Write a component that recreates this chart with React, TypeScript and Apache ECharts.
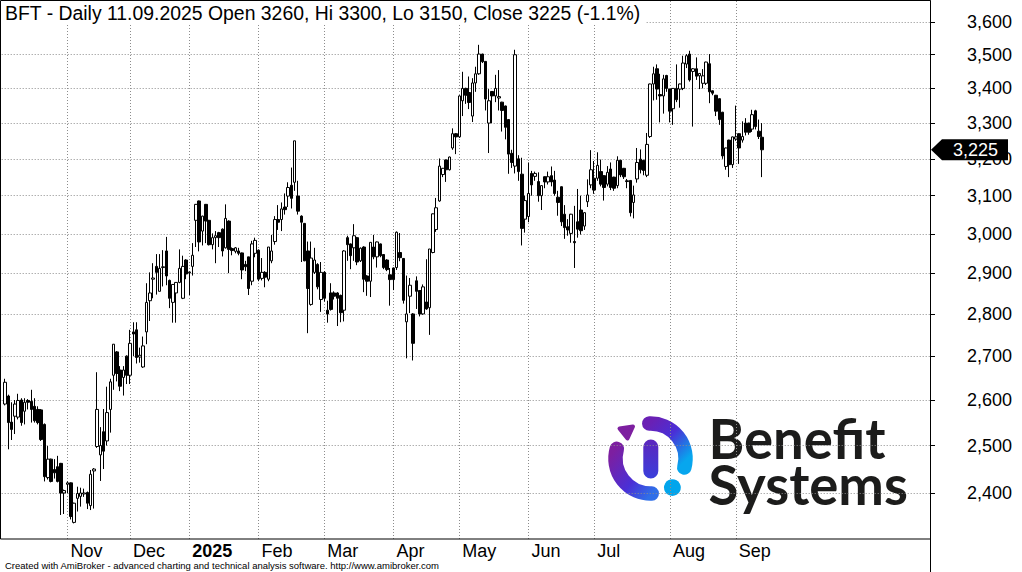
import React, { useEffect, useRef } from "react";
import * as echarts from "echarts";

const TICKER = "BFT";
const FIRST_DAY = "2024-10-07";
const LAST_DAY = "2025-09-11";
const HOLIDAYS = [
  "2024-11-01", "2024-11-11", "2024-12-24", "2024-12-25", "2024-12-26", "2024-12-31",
  "2025-01-01", "2025-01-06", "2025-04-18", "2025-04-21", "2025-05-01", "2025-06-19", "2025-08-15",
];
const MONTH_LABELS = ["Jan", "Feb", "Mar", "Apr", "May", "Jun", "Jul", "Aug", "Sep", "Oct", "Nov", "Dec"];
const PRICE_TICKS = [2400, 2500, 2600, 2700, 2800, 2900, 3000, 3100, 3200, 3300, 3400, 3500, 3600];
const Y_MIN = 2306.8;
const Y_MAX = 3665.7;
const TAIL_SLOTS = 51;

const OPEN = [
  2591, 2609, 2551, 2564, 2562, 2600, 2575, 2599, 2597, 2586,
  2579, 2578, 2546, 2432, 2471, 2449, 2455, 2462, 2400, 2418,
  2421, 2340, 2389, 2393, 2398, 2401, 2374, 2446, 2498, 2480,
  2530, 2510, 2579, 2656, 2710, 2668, 2651, 2700, 2656, 2757,
  2762, 2698, 2675, 2757, 2832, 2885, 2917, 2855, 2914, 2956,
  2882, 2828, 2851, 2877, 2838, 2933, 2901, 2917, 3035, 3086,
  3007, 3077, 3035, 2972, 2990, 3003, 3012, 2964, 3033, 2962,
  2955, 2956, 2951, 2922, 2941, 2880, 2950, 2958, 2887, 2902,
  2885, 2931, 2980, 3037, 3037, 3070, 3099, 3128, 3136, 3099,
  3046, 3027, 2956, 2823, 2902, 2922, 2835, 2902, 2809, 2851,
  2851, 2851, 2845, 2809, 2990, 2974, 2964, 2990, 2931, 2966,
  2893, 2880, 2966, 2941, 2974, 2947, 2933, 2896, 2913, 2914,
  2952, 2937, 2781, 2843, 2800, 2881, 2857, 2800, 2829, 2815,
  2952, 3011, 3086, 3157, 3197, 3170, 3230, 3270, 3261, 3364,
  3400, 3388, 3320, 3416, 3443, 3502, 3480, 3300, 3391, 3378,
  3372, 3360, 3349, 3310, 3215, 3180, 3200, 3158, 3038, 3045,
  3160, 3152, 3138, 3100, 3151, 3137, 3154, 3142, 3096, 3124,
  3051, 3018, 3001, 2980, 3031, 3062, 3020, 3084, 3129, 3147,
  3147, 3165, 3154, 3131, 3172, 3150, 3127, 3196, 3174, 3140,
  3141, 3082, 3145, 3199, 3196, 3155, 3262, 3413, 3458, 3382,
  3378, 3438, 3398, 3341, 3400, 3398, 3400, 3472, 3502, 3450,
  3458, 3437, 3415, 3415, 3473, 3393, 3380, 3370, 3331, 3179,
  3252, 3184, 3255, 3270, 3252, 3300, 3300, 3283, 3335, 3277,
  3260,
];

const HIGH = [
  2648, 2612, 2595, 2600, 2614, 2604, 2604, 2602, 2623, 2604,
  2586, 2580, 2548, 2499, 2472, 2471, 2478, 2463, 2407, 2424,
  2422, 2380, 2413, 2411, 2409, 2403, 2448, 2452, 2663, 2540,
  2580, 2630, 2648, 2728, 2712, 2677, 2677, 2702, 2762, 2780,
  2780, 2720, 2746, 2875, 2902, 2925, 2948, 2948, 2958, 2992,
  2884, 2873, 2878, 2960, 2944, 2935, 2904, 2976, 3078, 3087,
  3047, 3078, 3036, 3001, 3007, 3005, 3014, 3077, 3035, 2965,
  2966, 2964, 2952, 2931, 2941, 2982, 2990, 2960, 2938, 2905,
  2966, 2997, 3046, 3075, 3082, 3106, 3136, 3176, 3250, 3140,
  3048, 3028, 2980, 2980, 2964, 2925, 2928, 2905, 2832, 2875,
  2855, 2853, 2847, 2958, 2995, 2975, 3025, 2992, 2965, 2968,
  2895, 2978, 2997, 2980, 2975, 2948, 2935, 2913, 2914, 3006,
  3002, 2938, 2894, 2888, 2802, 2892, 2858, 2872, 2935, 2961,
  3053, 3094, 3201, 3175, 3198, 3206, 3285, 3272, 3380, 3449,
  3402, 3435, 3430, 3464, 3530, 3503, 3481, 3398, 3392, 3440,
  3454, 3361, 3350, 3311, 3225, 3515, 3210, 3203, 3100, 3190,
  3167, 3165, 3163, 3128, 3152, 3165, 3179, 3167, 3113, 3125,
  3075, 3038, 3052, 3073, 3118, 3100, 3056, 3144, 3224, 3194,
  3218, 3198, 3155, 3180, 3190, 3151, 3207, 3197, 3175, 3145,
  3142, 3127, 3230, 3226, 3197, 3272, 3414, 3464, 3471, 3443,
  3440, 3440, 3399, 3401, 3471, 3414, 3497, 3502, 3512, 3460,
  3492, 3445, 3457, 3479, 3502, 3394, 3381, 3371, 3332, 3231,
  3253, 3262, 3350, 3271, 3305, 3314, 3301, 3338, 3338, 3310,
  3300,
];

const LOW = [
  2588, 2492, 2512, 2525, 2557, 2543, 2546, 2579, 2550, 2550,
  2546, 2510, 2424, 2428, 2422, 2430, 2422, 2355, 2357, 2400,
  2346, 2338, 2362, 2372, 2392, 2367, 2365, 2368, 2495, 2425,
  2450, 2500, 2528, 2623, 2642, 2620, 2610, 2636, 2636, 2700,
  2683, 2685, 2673, 2728, 2783, 2838, 2847, 2855, 2867, 2870,
  2814, 2779, 2779, 2875, 2836, 2885, 2846, 2894, 2966, 2955,
  2970, 2976, 2970, 2960, 2925, 2966, 2942, 2962, 2900, 2945,
  2950, 2945, 2885, 2905, 2846, 2870, 2940, 2880, 2882, 2865,
  2880, 2925, 2972, 3010, 3007, 3050, 3070, 3066, 3113, 3050,
  2928, 2930, 2754, 2820, 2898, 2860, 2805, 2830, 2779, 2808,
  2835, 2771, 2780, 2782, 2931, 2910, 2931, 2920, 2928, 2853,
  2844, 2841, 2935, 2914, 2940, 2910, 2905, 2820, 2858, 2908,
  2930, 2825, 2695, 2802, 2690, 2812, 2794, 2798, 2810, 2750,
  2950, 3005, 3084, 3150, 3137, 3168, 3225, 3213, 3258, 3320,
  3355, 3340, 3303, 3390, 3440, 3475, 3336, 3216, 3300, 3360,
  3336, 3276, 3254, 3159, 3175, 3160, 3140, 2970, 3003, 3030,
  3100, 3140, 3084, 3062, 3120, 3130, 3125, 3100, 3047, 3020,
  2987, 2995, 2977, 2913, 2990, 2998, 3010, 3070, 3120, 3105,
  3140, 3125, 3087, 3125, 3115, 3113, 3120, 3150, 3145, 3120,
  3045, 3040, 3135, 3160, 3155, 3150, 3258, 3365, 3367, 3302,
  3327, 3390, 3302, 3295, 3360, 3344, 3395, 3460, 3420, 3290,
  3425, 3398, 3400, 3410, 3357, 3380, 3320, 3295, 3200, 3170,
  3150, 3175, 3250, 3186, 3245, 3265, 3267, 3275, 3282, 3255,
  3150,
];

const CLOSE = [
  2640, 2550, 2535, 2591, 2599, 2550, 2595, 2595, 2579, 2554,
  2550, 2513, 2434, 2471, 2424, 2442, 2424, 2400, 2405, 2421,
  2352, 2379, 2399, 2400, 2400, 2379, 2439, 2450, 2579, 2500,
  2488, 2572, 2641, 2728, 2660, 2631, 2668, 2656, 2730, 2752,
  2697, 2702, 2724, 2828, 2851, 2888, 2902, 2912, 2916, 2893,
  2838, 2872, 2877, 2912, 2917, 2898, 2903, 2945, 3077, 2979,
  3046, 3033, 2972, 2990, 2995, 2990, 2956, 3040, 2960, 2957,
  2964, 2950, 2908, 2916, 2862, 2974, 2983, 2885, 2902, 2890,
  2966, 2956, 3037, 3030, 3065, 3063, 3122, 3093, 3250, 3059,
  3030, 2931, 2862, 2938, 2933, 2866, 2902, 2838, 2800, 2811,
  2843, 2838, 2803, 2956, 2972, 2944, 2995, 2928, 2963, 2885,
  2880, 2978, 2941, 2979, 2944, 2914, 2909, 2884, 2884, 3004,
  2939, 2833, 2800, 2870, 2730, 2855, 2800, 2866, 2812, 2961,
  3052, 3068, 3180, 3174, 3170, 3205, 3270, 3261, 3378, 3400,
  3380, 3359, 3416, 3443, 3502, 3479, 3369, 3364, 3378, 3400,
  3376, 3336, 3288, 3213, 3190, 3500, 3165, 3014, 3087, 3106,
  3129, 3160, 3100, 3127, 3137, 3151, 3137, 3106, 3082, 3031,
  3016, 3010, 3051, 2977, 3012, 3008, 3055, 3102, 3170, 3115,
  3182, 3131, 3122, 3163, 3122, 3120, 3196, 3156, 3151, 3138,
  3055, 3102, 3190, 3170, 3168, 3240, 3413, 3443, 3398, 3378,
  3428, 3400, 3334, 3400, 3367, 3413, 3475, 3497, 3425, 3458,
  3436, 3444, 3437, 3478, 3390, 3386, 3334, 3310, 3208, 3230,
  3184, 3261, 3261, 3230, 3262, 3274, 3274, 3324, 3290, 3262,
  3225,
];

const FONT = "'Liberation Sans', Arial, sans-serif";
const LOGO_FONT = "Lato, 'Noto Sans', sans-serif";
const LOGO_TEXT = "Benefit\nSystems";
const FOOTER = "Created with AmiBroker - advanced charting and technical analysis software. http://www.amibroker.com";

function buildTradingDays(): string[] {
  const out: string[] = [];
  const [y0, m0, d0] = FIRST_DAY.split("-").map(Number);
  const d = new Date(Date.UTC(y0, m0 - 1, d0));
  const endT = Date.parse(LAST_DAY + "T00:00:00Z");
  while (d.getTime() <= endT) {
    const wd = d.getUTCDay();
    const s = d.toISOString().slice(0, 10);
    if (wd !== 0 && wd !== 6 && HOLIDAYS.indexOf(s) < 0) out.push(s);
    d.setUTCDate(d.getUTCDate() + 1);
  }
  return out;
}

const fmtNum = (v: number) => Math.round(v).toLocaleString("en-US");

export default function App() {
  const ref = useRef<HTMLDivElement>(null);

  useEffect(() => {
    const el = ref.current;
    if (!el) return;
    const chart = echarts.init(el, undefined, { renderer: "svg" });

    const days = buildTradingDays();
    const cats: string[] = ["_lead", ...days];
    for (let i = 0; i < TAIL_SLOTS; i++) cats.push("_t" + i);

    const isMonthStart = (idx: number) => {
      const c = cats[idx];
      const p = cats[idx - 1];
      if (!c || !p || c[0] === "_" || p[0] === "_") return false;
      return c.slice(5, 7) !== p.slice(5, 7);
    };

    const n = Math.min(days.length, OPEN.length);
    const candles = [];
    for (let i = 0; i < n; i++) {
      candles.push([i + 1, OPEN[i], CLOSE[i], LOW[i], HIGH[i]]);
    }
    const last = n - 1;
    const lastClose = CLOSE[last];
    const pct = ((CLOSE[last] / CLOSE[last - 1] - 1) * 100).toFixed(1);
    const lastDate = days[last] || LAST_DAY;
    const [yy, mm, dd] = lastDate.split("-");
    const titleText = `${TICKER} - Daily ${dd}.${mm}.${yy} Open ${OPEN[last]}, Hi ${HIGH[last]}, Lo ${LOW[last]}, Close ${CLOSE[last]} (${pct}%)`;

    const gridLine = { color: "#8c8c8c", width: 1, type: [1, 2] as any };

    const purple = "#7d1fa0";
    const violet = "#4a2fd6";
    const blue = "#2f6fe8";
    const cyan = "#07a6ee";

    const option: any = {
      animation: false,
      backgroundColor: "#fff",
      title: {
        text: titleText,
        left: 0,
        top: 0,
        padding: [3, 5, 3, 5],
        backgroundColor: "#fff",
        textStyle: { fontSize: 19.4, fontWeight: "normal", fontFamily: FONT, color: "#000" },
      },
      grid: { left: 1.7, right: 92, top: 1, bottom: 33, show: false },
      xAxis: {
        type: "category",
        data: cats,
        boundaryGap: false,
        axisLine: { show: false },
        axisTick: { show: false },
        axisLabel: {
          interval: (idx: number) => isMonthStart(idx),
          formatter: (value: string) => {
            if (!value || value[0] === "_") return "";
            const m = Number(value.slice(5, 7));
            return m === 1 ? `{yr|${value.slice(0, 4)}}` : MONTH_LABELS[m - 1];
          },
          align: "left",
          padding: [0, 0, 0, 3],
          margin: 3,
          fontSize: 18,
          fontFamily: FONT,
          color: "#000",
          rich: { yr: { fontSize: 18, fontFamily: FONT, fontWeight: "bold", color: "#000" } },
        },
        splitLine: { show: true, interval: (idx: number) => isMonthStart(idx), lineStyle: gridLine },
      },
      yAxis: {
        type: "log",
        logBase: 10,
        min: Y_MIN,
        max: Y_MAX,
        position: "right",
        axisLine: { show: true, lineStyle: { color: "#000", width: 1 } },
        axisTick: { show: true, customValues: PRICE_TICKS, length: 5, lineStyle: { color: "#000" } },
        axisLabel: {
          customValues: PRICE_TICKS,
          formatter: (v: number) => fmtNum(v),
          margin: 37,
          fontSize: 18,
          fontFamily: FONT,
          color: "#000",
        },
        splitLine: { show: true, lineStyle: gridLine },
      },
      series: [
        {
          type: "candlestick",
          data: candles,
          encode: { x: 0, y: [1, 2, 3, 4] },
          barWidth: 3,
          itemStyle: {
            color: "#ffffff",
            color0: "#000000",
            borderColor: "#000000",
            borderColor0: "#000000",
            borderColorDoji: "#000000",
            borderWidth: 1,
          },
          markPoint: {
            silent: true,
            symbol: "path://M0,10.5L11,0L77,0L77,21L11,21Z",
            symbolSize: [77, 21],
            symbolKeepAspect: false,
            symbolOffset: [39.5, 0],
            itemStyle: { color: "#000" },
            label: {
              show: true,
              position: "inside",
              offset: [6, 0],
              color: "#fff",
              fontSize: 18,
              fontFamily: FONT,
              formatter: () => fmtNum(lastClose),
            },
            data: [{ coord: [cats.length - 1, lastClose], value: lastClose }],
          },
        },
      ],
      graphic: [
        {
          type: "rect",
          silent: true,
          z: 50,
          shape: { x: 0.5, y: 0.5, width: 930, height: 538.5 },
          style: { fill: "rgba(0,0,0,0)", stroke: "#000", lineWidth: 1 },
        },
        {
          type: "line",
          silent: true,
          z: 50,
          shape: { x1: 930.5, y1: 539, x2: 930.5, y2: 572 },
          style: { stroke: "#000", lineWidth: 1 },
        },
        {
          type: "text",
          silent: true,
          z: 50,
          x: 5,
          y: 565,
          style: { text: FOOTER, fontSize: 9.5, fontFamily: FONT, fill: "#000", verticalAlign: "middle" },
        },
        {
          type: "group",
          silent: true,
          z: 60,
          children: [
            {
              type: "arc",
              shape: { cx: 650.5, cy: 458.5, r: 35, startAngle: (-92 * Math.PI) / 180, endAngle: (15 * Math.PI) / 180, clockwise: true },
              style: {
                fill: null,
                lineWidth: 14.5,
                lineCap: "round",
                stroke: new echarts.graphic.LinearGradient(0, 0, 0.8, 1, [
                  { offset: 0, color: "#6a20b4" },
                  { offset: 0.45, color: violet },
                  { offset: 1, color: cyan },
                ]),
              },
            },
            {
              type: "arc",
              shape: { cx: 650.5, cy: 458.5, r: 35, startAngle: (88 * Math.PI) / 180, endAngle: (196 * Math.PI) / 180, clockwise: true },
              style: {
                fill: null,
                lineWidth: 14.5,
                lineCap: "round",
                stroke: new echarts.graphic.LinearGradient(0, 0, 1, 1, [
                  { offset: 0, color: purple },
                  { offset: 0.6, color: violet },
                  { offset: 1, color: blue },
                ]),
              },
            },
            {
              type: "rect",
              shape: { x: 643.3, y: 439.5, width: 15, height: 39, r: 7.5 },
              style: {
                fill: new echarts.graphic.LinearGradient(0, 0, 0, 1, [
                  { offset: 0, color: "#5d26bd" },
                  { offset: 1, color: "#3a3fdb" },
                ]),
              },
            },
            {
              type: "polygon",
              shape: { points: [[619.5, 428.5], [633, 426.5], [627.5, 438.5]] },
              style: { fill: purple, stroke: purple, lineWidth: 4, lineJoin: "round" },
            },
            {
              type: "circle",
              shape: { cx: 672.4, cy: 487.6, r: 8.4 },
              style: { fill: "#02a5ec" },
            },
            {
              type: "text",
              x: 708.5,
              y: 460.5,
              style: {
                text: LOGO_TEXT,
                fontSize: 54.5,
                lineHeight: 46,
                fontWeight: "bold",
                fontFamily: LOGO_FONT,
                fill: "#1c1c1b",
                verticalAlign: "middle",
              },
            },
          ],
        },
      ],
    };

    chart.setOption(option);
    return () => chart.dispose();
  }, []);

  return (
    <div
      ref={ref}
      style={{ position: "fixed", left: 0, top: 0, width: 1022, height: 572, background: "#fff" }}
    />
  );
}
